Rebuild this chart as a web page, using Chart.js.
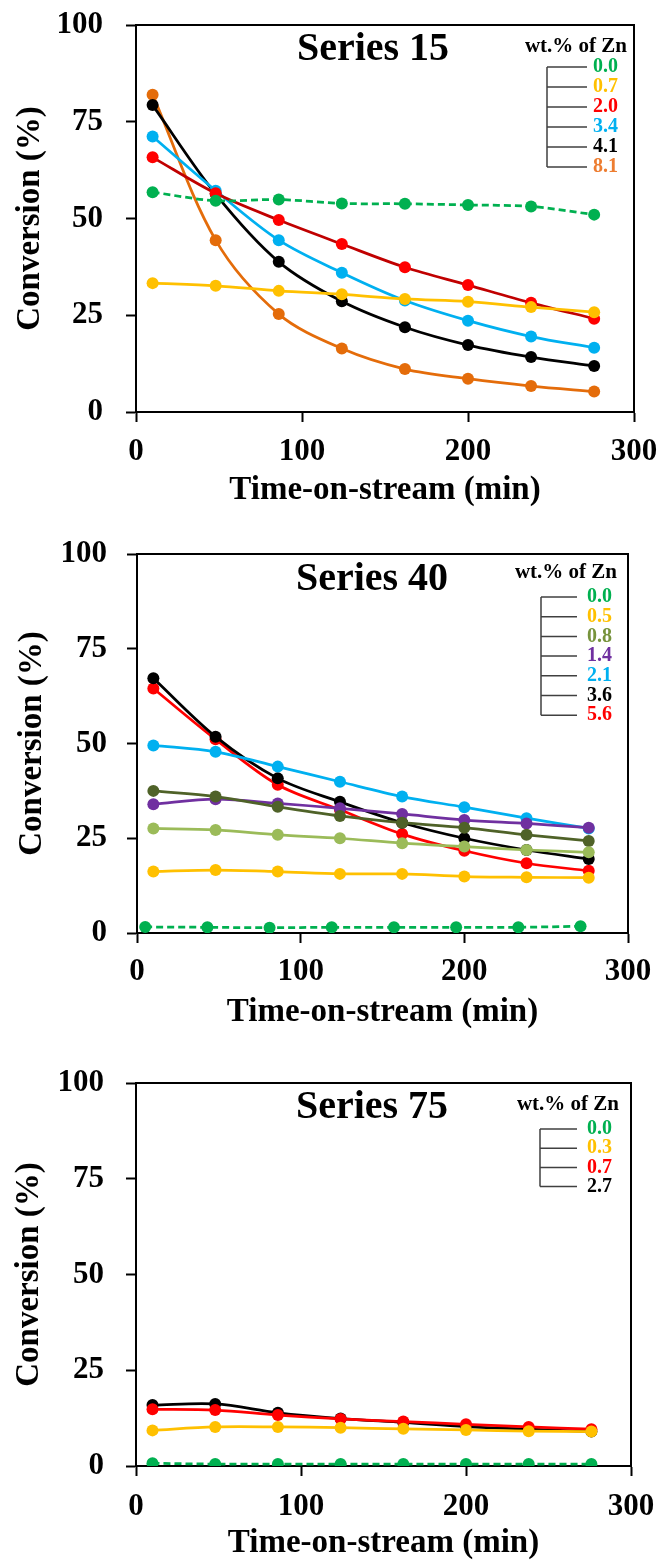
<!DOCTYPE html>
<html><head><meta charset="utf-8">
<script src="https://cdn.jsdelivr.net/npm/chart.js@4"></script>
<style>
html,body{margin:0;padding:0;background:#fff;}
body{width:661px;height:1563px;position:relative;overflow:hidden;}
canvas{position:absolute;left:0;}
</style></head><body>
<canvas id="c1" width="661" height="520" style="top:0px"></canvas>
<canvas id="c2" width="661" height="520" style="top:530px"></canvas>
<canvas id="c3" width="661" height="503" style="top:1060px"></canvas>
<script>
// ---------- data ----------
const timeMin = [10, 48, 86, 124, 162, 200, 238, 276];
const timeMinS40Blank = [5, 43, 81, 119, 157, 195, 233, 271];
const xTickValues = [0, 100, 200, 300];
const yTickValues = [0, 25, 50, 75, 100];
const xTitleText = 'Time-on-stream (min)';
const yTitleText = 'Conversion (%)';
const legendTitleText = 'wt.% of Zn';

// Series 15
const s15Title = 'Series 15';
const s15Labels = ['0.0', '0.7', '2.0', '3.4', '4.1', '8.1'];
const s15_Zn00 = [56.8, 54.6, 54.9, 53.9, 53.8, 53.5, 53.1, 51.0];
const s15_Zn07 = [33.3, 32.6, 31.3, 30.4, 29.2, 28.5, 27.1, 25.8];
const s15_Zn20 = [65.8, 56.5, 49.6, 43.4, 37.4, 32.8, 28.2, 24.1];
const s15_Zn34 = [71.2, 57.2, 44.4, 36.0, 28.8, 23.6, 19.5, 16.6];
const s15_Zn41 = [79.3, 56.3, 38.8, 28.6, 21.9, 17.3, 14.2, 11.9];
const s15_Zn81 = [82.0, 44.4, 25.3, 16.4, 11.1, 8.6, 6.7, 5.3];

// Series 40
const s40Title = 'Series 40';
const s40Labels = ['0.0', '0.5', '0.8', '1.4', '2.1', '3.6', '5.6'];
const s40_Zn00 = [1.6, 1.5, 1.4, 1.5, 1.5, 1.5, 1.5, 1.8];
const s40_Zn05 = [16.2, 16.6, 16.2, 15.6, 15.6, 14.9, 14.7, 14.6];
const s40_ZnLight = [27.6, 27.2, 25.9, 25.0, 23.7, 22.8, 21.9, 21.3];
const s40_Zn08 = [37.5, 36.0, 33.3, 30.9, 29.1, 27.8, 25.9, 24.3];
const s40_Zn14 = [34.0, 35.3, 34.2, 32.9, 31.4, 29.8, 28.9, 27.8];
const s40_Zn21 = [49.5, 47.8, 43.9, 39.9, 36.0, 33.2, 30.3, 27.6];
const s40_Zn36 = [67.2, 51.8, 40.8, 34.6, 29.1, 25.0, 21.9, 19.5];
const s40_Zn56 = [64.5, 51.1, 39.1, 32.5, 26.1, 21.7, 18.4, 16.4];

// Series 75
const s75Title = 'Series 75';
const s75Labels = ['0.0', '0.3', '0.7', '2.7'];
const s75_Zn00 = [0.7, 0.5, 0.5, 0.5, 0.5, 0.5, 0.5, 0.5];
const s75_Zn03 = [9.3, 10.2, 10.2, 10.0, 9.7, 9.4, 9.1, 9.0];
const s75_Zn07 = [14.8, 14.6, 13.3, 12.3, 11.6, 10.9, 10.2, 9.6];
const s75_Zn27 = [15.9, 16.2, 13.9, 12.4, 11.4, 10.3, 9.6, 9.0];

// ---------- styling ----------
const FONT = '"Times New Roman", "Liberation Serif", serif';
const C = {
  green: '#00B050', yellow: '#FFC000', red: '#FF0000', darkred: '#C00000',
  blue: '#00B0F0', black: '#000000', orange: '#E46C0A', orangeTxt: '#ED7D31',
  light: '#9BBB59', olive: '#4F6228', oliveTxt: '#77933C', purple: '#7030A0'
};

function pts(xs, ys) { return xs.map((x, i) => ({x: x, y: ys[i]})); }

function series(label, xs, ys, line, point, dashed) {
  return {
    label: label,
    data: pts(xs, ys),
    borderColor: line,
    backgroundColor: point || line,
    pointBackgroundColor: point || line,
    pointBorderColor: point || line,
    pointRadius: 6,
    pointBorderWidth: 0,
    borderWidth: 2.75,
    borderDash: dashed ? [7, 4] : [],
    tension: 0.33,
    fill: false
  };
}

function noPad(s) { s.paddingTop = 0; s.paddingBottom = 0; s.paddingLeft = 0; s.paddingRight = 0; }

function makeChart(id, g, datasets, title, legendLabels, legendColors, L) {
  const ctxEl = document.getElementById(id);
  const H = ctxEl.height;
  const xAxisH = g.xTitle + 16.5 - g.bottom;
  const decor = {
    id: 'decor_' + id,
    afterDraw(chart) {
      const ctx = chart.ctx;
      const a = chart.chartArea;
      ctx.save();
      // frame (top & right)
      ctx.strokeStyle = '#000';
      ctx.lineWidth = 2;
      ctx.beginPath();
      ctx.moveTo(a.left, a.top);
      ctx.lineTo(a.right, a.top);
      ctx.lineTo(a.right, a.bottom);
      ctx.stroke();
      // title
      ctx.fillStyle = '#000';
      ctx.font = 'bold 40px ' + FONT;
      ctx.textAlign = 'center';
      ctx.textBaseline = 'middle';
      ctx.fillText(title, g.titleX, g.titleY);
      // legend
      ctx.font = 'bold 21px ' + FONT;
      ctx.textAlign = 'right';
      ctx.fillText(legendTitleText, L.titleRight, L.titleY);
      const n = legendLabels.length;
      ctx.strokeStyle = '#404040';
      ctx.lineWidth = 1.5;
      ctx.beginPath();
      ctx.moveTo(L.x0, L.y0);
      ctx.lineTo(L.x0, L.y0 + (n - 1) * L.dy);
      for (let i = 0; i < n; i++) {
        const y = L.y0 + i * L.dy;
        ctx.moveTo(L.x0, y);
        ctx.lineTo(L.x1, y);
      }
      ctx.stroke();
      ctx.font = 'bold 20px ' + FONT;
      ctx.textAlign = 'left';
      for (let i = 0; i < n; i++) {
        ctx.fillStyle = legendColors[i];
        ctx.fillText(legendLabels[i], L.xl, L.y0 + i * L.dy);
      }
      ctx.restore();
    }
  };
  return new Chart(ctxEl, {
    type: 'line',
    data: {datasets: datasets},
    plugins: [decor],
    options: {
      responsive: false,
      devicePixelRatio: 1,
      animation: false,
      events: [],
      layout: {padding: {left: 0, top: g.top, right: 661 - g.right, bottom: H - (g.xTitle + 16.5)}},
      plugins: {legend: {display: false}, tooltip: {enabled: false}, title: {display: false}},
      scales: {
        x: {
          type: 'linear', min: 0, max: 300,
          afterBuildTicks: s => { s.ticks = xTickValues.map(v => ({value: v})); },
          afterFit: s => { s.height = xAxisH; noPad(s); },
          grid: {display: true, drawOnChartArea: false, drawTicks: true, tickLength: 10, tickWidth: 2, tickColor: '#000'},
          border: {display: true, color: '#000', width: 2},
          ticks: {color: '#000', font: {family: FONT, size: 31, weight: 'bold', lineHeight: 1}, padding: g.xPad, maxRotation: 0, autoSkip: false},
          title: {display: true, text: xTitleText, color: '#000', font: {family: FONT, size: 33, weight: 'bold', lineHeight: 1}, padding: {top: 0, bottom: 0}}
        },
        y: {
          type: 'linear', min: 0, max: 100,
          afterBuildTicks: s => { s.ticks = yTickValues.map(v => ({value: v})); },
          afterFit: s => { s.width = g.left; noPad(s); },
          grid: {display: true, drawOnChartArea: false, drawTicks: true, tickLength: 10, tickWidth: 2, tickColor: '#000'},
          border: {display: true, color: '#000', width: 2},
          ticks: {color: '#000', font: {family: FONT, size: 31, weight: 'bold', lineHeight: 1}, padding: g.yPad, autoSkip: false},
          title: {display: true, text: yTitleText, color: '#000', font: {family: FONT, size: 33, weight: 'bold', lineHeight: 1}, padding: {top: g.yTitlePad, bottom: 0}}
        }
      }
    }
  });
}

makeChart('c1',
  {top: 25, bottom: 412, left: 136, right: 634, xTitle: 490, xPad: 14.5, yPad: 23, yTitlePad: 13.5, titleX: 373, titleY: 50},
  [
    series('0.0', timeMin, s15_Zn00, C.green, C.green, true),
    series('0.7', timeMin, s15_Zn07, C.yellow),
    series('2.0', timeMin, s15_Zn20, C.darkred, C.red),
    series('3.4', timeMin, s15_Zn34, C.blue),
    series('4.1', timeMin, s15_Zn41, C.black),
    series('8.1', timeMin, s15_Zn81, C.orange)
  ],
  s15Title, s15Labels, [C.green, C.yellow, C.red, C.blue, C.black, C.orangeTxt],
  {titleRight: 627, titleY: 47, x0: 547, x1: 587, xl: 593, y0: 67, dy: 20}
);

makeChart('c2',
  {top: 24, bottom: 403, left: 137, right: 628, xTitle: 482, xPad: 13.5, yPad: 20, yTitlePad: 15.5, titleX: 372, titleY: 50},
  [
    series('0.0', timeMinS40Blank, s40_Zn00, C.green, C.green, true),
    series('0.5', timeMin, s40_Zn05, C.yellow),
    series('0.8b', timeMin, s40_ZnLight, C.light),
    series('0.8', timeMin, s40_Zn08, C.olive),
    series('1.4', timeMin, s40_Zn14, C.purple),
    series('2.1', timeMin, s40_Zn21, C.blue),
    series('3.6', timeMin, s40_Zn36, C.black),
    series('5.6', timeMin, s40_Zn56, C.red)
  ],
  s40Title, s40Labels, [C.green, C.yellow, C.oliveTxt, C.purple, C.blue, C.black, C.red],
  {titleRight: 617, titleY: 43, x0: 541, x1: 577, xl: 587, y0: 67, dy: 19.7}
);

makeChart('c3',
  {top: 23, bottom: 406, left: 136, right: 631, xTitle: 483, xPad: 15.5, yPad: 22, yTitlePad: 13, titleX: 372, titleY: 48},
  [
    series('0.0', timeMin, s75_Zn00, C.green, C.green, true),
    series('0.3', timeMin, s75_Zn03, C.yellow),
    series('0.7', timeMin, s75_Zn07, C.red),
    series('2.7', timeMin, s75_Zn27, C.black)
  ],
  s75Title, s75Labels, [C.green, C.yellow, C.red, C.black],
  {titleRight: 619, titleY: 45, x0: 540, x1: 577, xl: 587, y0: 69, dy: 19.2}
);
</script>
</body></html>
